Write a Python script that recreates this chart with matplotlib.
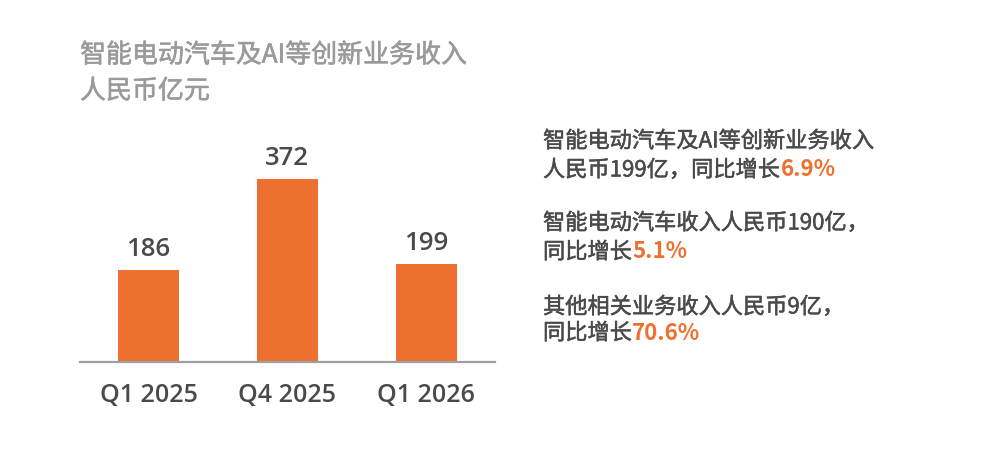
import matplotlib
matplotlib.use("Agg")
from matplotlib import pyplot as plt
from matplotlib import patheffects as pe

plt.rcParams['font.family'] = ['Noto Sans CJK SC', 'DejaVu Sans']

quarters = ['Q1 2025', 'Q4 2025', 'Q1 2026']
revenue = [186, 372, 199]

title_lines = ['智能电动汽车及AI等创新业务收入', '人民币亿元']

# each note line is a list of (text, highlighted) pieces
notes = [
    [('智能电动汽车及AI等创新业务收入', False)],
    [('人民币199亿，同比增长', False), ('6.9%', True)],
    [('智能电动汽车收入人民币190亿，', False)],
    [('同比增长', False), ('5.1%', True)],
    [('其他相关业务收入人民币9亿，', False)],
    [('同比增长', False), ('70.6%', True)],
]
note_y = [141, 170, 223, 252, 307, 333]

ORANGE = '#EE7031'
DARK = '#4a4a4a'
LATIN = ['Open Sans', 'Noto Sans CJK SC', 'DejaVu Sans']
W, H = 1000, 471


def fy(px):
    return 1 - px / H


def thick(color, w=0.7):
    return [pe.Stroke(linewidth=w, foreground=color), pe.Normal()]


fig = plt.figure(figsize=(W / 100, H / 100), dpi=100)
ax = fig.add_axes([80 / W, fy(362), 415 / W, 252 / H])

x = list(range(len(quarters)))
ax.bar(x, revenue, width=0.44, color=ORANGE, zorder=2)
ax.set_xlim(-0.493, 2.496)
ax.set_ylim(0, 512)

for xi, v in zip(x, revenue):
    ax.annotate(str(v), xy=(xi, v), xytext=(0, 14), textcoords='offset pixels',
                ha='center', va='baseline', fontsize=18.5, color=DARK,
                fontweight=600, family=LATIN)

for s in ['top', 'left', 'right']:
    ax.spines[s].set_visible(False)
ax.spines['bottom'].set_color('#9e9e9e')
ax.spines['bottom'].set_linewidth(1.6)
ax.set_yticks([])
ax.set_xticks(x)
ax.set_xticklabels(quarters, fontsize=18, color=DARK, fontweight=600,
                   family=LATIN)
ax.tick_params(axis='x', length=0, pad=15)

for i, line in enumerate(title_lines):
    fig.text(80 / W, fy(55 + 36 * i), line, fontsize=18.7, color='#9a9a9a',
             va='center', ha='left', path_effects=thick('#9a9a9a', 0.4))

for y, pieces in zip(note_y, notes):
    last = None
    for txt, hi in pieces:
        col = ORANGE if hi else DARK
        kw = dict(fontsize=16.0, va='center', color=col,
                  fontweight='bold' if hi else 'normal',
                  path_effects=None if hi else thick(col, 0.35))
        if last is None:
            last = fig.text(543 / W, fy(y), txt, ha='left', **kw)
        else:
            last = ax.annotate(txt, xy=(1, 0.5), xycoords=last,
                               ha='left', annotation_clip=False, **kw)

fig.savefig('out.png', dpi=100)
